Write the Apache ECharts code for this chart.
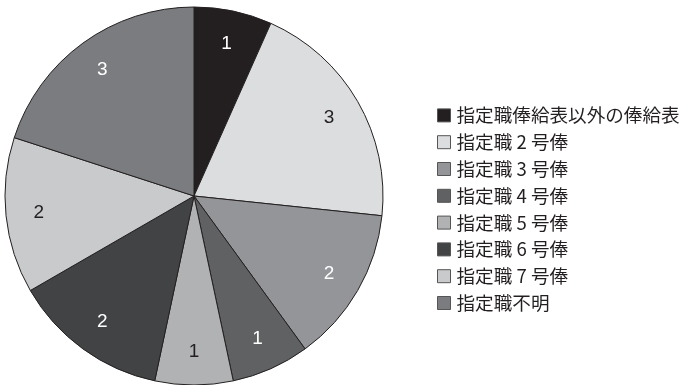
<!DOCTYPE html>
<html>
<head>
<meta charset="utf-8">
<style>
html, body { margin: 0; padding: 0; background: #fff; }
#chart { width: 679px; height: 385px; }
</style>
<script src="https://cdn.jsdelivr.net/npm/echarts@6/dist/echarts.min.js"></script>
</head>
<body>
<div id="chart"></div>
<script>
// Pay grades of designated posts and their counts
const categories = ['指定職俸給表以外の俸給表', '指定職 2 号俸', '指定職 3 号俸', '指定職 4 号俸', '指定職 5 号俸', '指定職 6 号俸', '指定職 7 号俸', '指定職不明'];
const counts = [1, 3, 2, 1, 1, 2, 2, 3];
const colors = ['#231f20', '#dcdddf', '#949598', '#606163', '#b1b2b4', '#424345', '#c9cacc', '#7b7c7f'];
const labelColors = ['#ffffff', '#231f20', '#ffffff', '#ffffff', '#231f20', '#ffffff', '#231f20', '#ffffff'];

const center = [194, 196];
const R = 189;

const chart = echarts.init(document.getElementById('chart'), null, { renderer: 'canvas' });

const sliceData = categories.map((name, i) => ({
  name, value: counts[i], itemStyle: { color: colors[i] }
}));

// Transparent ring used only to place the count labels near the rim
const labelData = categories.map((name, i) => ({
  name, value: counts[i],
  itemStyle: { color: 'rgba(0,0,0,0)', borderWidth: 0 },
  label: { color: labelColors[i] }
}));

chart.setOption({
  animation: false,
  legend: {
    orient: 'vertical',
    left: 432,
    top: 101,
    itemWidth: 13,
    itemHeight: 13,
    itemGap: 8,
    icon: 'rect',
    itemStyle: { borderColor: '#555', borderWidth: 1 },
    textStyle: {
      fontFamily: '"Noto Sans CJK JP", sans-serif',
      fontSize: 18.6,
      lineHeight: 18.8,
      color: '#231f20',
      padding: [0, 0, 0, 1]
    },
    data: categories.map((name, i) => ({ name, itemStyle: { color: colors[i] } }))
  },
  series: [
    {
      type: 'pie',
      center: center,
      radius: [0, R],
      startAngle: 90,
      clockwise: true,
      label: { show: false },
      labelLine: { show: false },
      itemStyle: { borderColor: '#231f20', borderWidth: 1 },
      data: sliceData
    },
    {
      type: 'pie',
      center: center,
      radius: [117, R],
      startAngle: 90,
      clockwise: true,
      silent: true,
      legendHoverLink: false,
      label: {
        show: true,
        position: 'inside',
        formatter: '{c}',
        fontFamily: '"Liberation Sans Narrow", "Liberation Sans", sans-serif',
        fontSize: 19
      },
      labelLine: { show: false },
      data: labelData
    }
  ]
});
</script>
</body>
</html>
